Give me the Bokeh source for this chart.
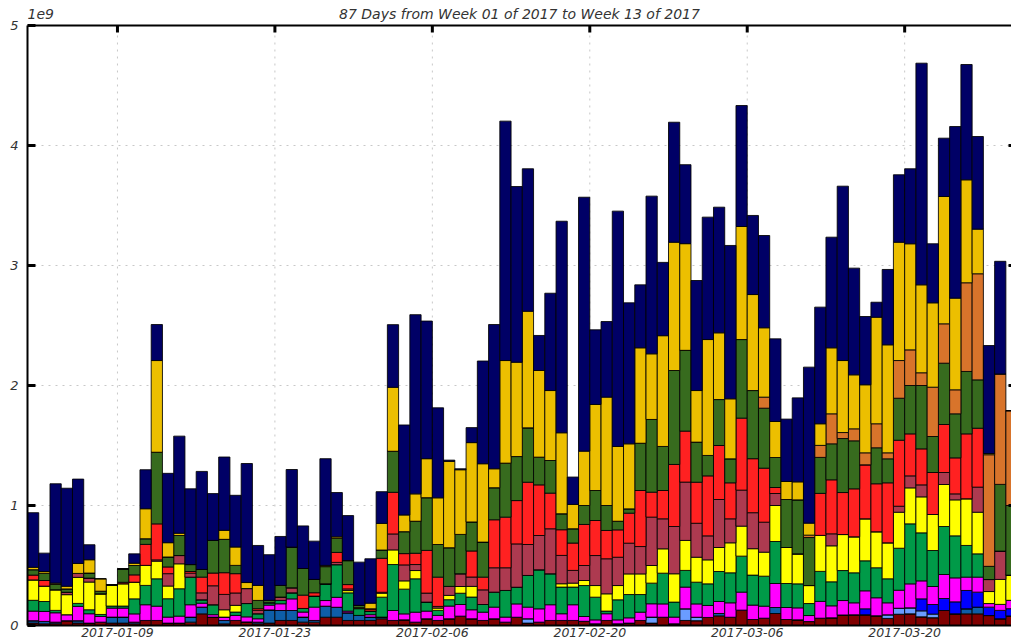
import pandas as pd
from bokeh.plotting import figure
from bokeh.models import (ColumnDataSource, FixedTicker, DatetimeTickFormatter,
                          Label, Range1d, Span)
from bokeh.embed import file_html
from bokeh.resources import INLINE

# ---- data (values in units of 1e9) ----
start = pd.Timestamp("2017-01-01")
n_days = 88
tick_dates = ["2017-01-09", "2017-01-23", "2017-02-06", "2017-02-20", "2017-03-06", "2017-03-20"]
y_ticks = [0, 1, 2, 3, 4, 5]
subtitle = "87 Days from Week 01 of 2017 to Week 13 of 2017"

maroon = [.02, .014, .015, .04, .02, .02, .028, .02, .02, .014,
          .042, .042, .02, .02, .028, .097, .07, .014, .042, .03,
          .014, .02, .042, .042, .028, .028, .069, .069, .042, .042,
          .042, .056, .042, .047, .028, .056, .042, .056, .078, .056,
          .042, .056, .028, .069, .02, .028, .042, .042, .042, .035,
          .014, .042, .014, .02, .042, .02, .069, .014, .042, .04,
          .067, .08, .069, .128, .05, .061, .1, .05, .047, .033,
          .061, .064, .088, .089, .089, .081, .059, .094, .097, .072,
          .065, .125, .097, .097, .097, .083, .056, .08]
steel = [.02, .02, .013, 0, .02, 0, 0, .05, .05, .014,
         0, 0, 0, 0, .042, .056, 0, .028, 0, 0,
         .014, .11, .083, .083, .042, .014, .092, .083, .064, .042,
         .028, .014, 0, 0, 0, 0, 0, 0, 0, 0,
         0, 0, 0, 0, 0, 0, 0, 0, 0, 0,
         0, 0, 0, 0, 0, 0, 0, 0, 0, 0,
         0, .02, 0, 0, 0, 0, .05, 0, 0, 0,
         0, 0, 0, 0, 0, 0, 0, 0, 0, 0,
         0, 0, 0, .042, .056, 0, 0, 0]
light_blue = [0] * 44 + [.036] + [0] * 10 + [.05, 0, 0, .097, .029] + [0] * 16 + \
             [.03, .05, .05, .05, .03] + [0] * 7
blue = [0] * 74 + [.05, 0, 0, 0, 0, .1, .08, .1, .1, .153, .125, .07, .07, .06]
magenta = [.08, .083, .078, .05, .119, .078, .047, .075, .075, .069,
           .131, .119, .05, .058, .103, .033, .02, .028, .042, .042,
           .028, .04, .056, .097, .042, .111, .047, .083, .014, 0,
           .02, 0, .083, .05, .083, .064, .042, .106, .097, .075,
           .069, .097, .042, .111, .097, .111, .131, .056, .131, .04,
           .033, .056, .033, .044, .069, .111, .111, .056, .181, .111,
           .1, .1, .12, .15, .12, .1, .2, .1, .1, .05,
           .14, .1, .12, .1, .15, .15, .1, .15, .2, .15,
           .15, .2, .2, .111, .125, .03, .05, .07]
green = [.09, .083, .02, 0, .025, .033, .017, .017, .017, .125,
         .161, .228, .153, .228, .23, .028, .083, 0, .028, .111,
         .042, .02, .028, .05, .03, .092, .139, .272, .152, .056,
         .03, .166, .383, .206, .278, .075, .042, .053, .094, .106,
         .064, .125, .222, .139, .264, .325, .258, .222, .147, .258,
         .189, .022, .167, .194, .147, .172, .256, .125, .139, .181,
         .18, .25, .25, .3, .25, .25, .35, .2, .2, .1,
         .25, .2, .25, .25, .25, .25, .2, .35, .5, .4,
         .3, .4, .35, .264, .194, 0, 0, 0]
yellow = [.17, .128, .172, .167, .217, .231, .172, .172, .186, .139,
          .167, .147, .106, .208, 0, 0, 0, .061, .056, 0,
          0, 0, 0, 0, 0, 0, 0, 0, .019, .008,
          0, .033, .122, .069, .069, 0, .019, .036, .056, .089,
          0, 0, 0, 0, 0, 0, 0, .028, .033, .042,
          .097, .144, .119, .172, .172, .147, .203, .236, .25, .208,
          .2, .2, .25, .25, .22, .2, .3, .3, .25, .15,
          .3, .3, .3, .3, .35, .3, .3, .3, .3, .3,
          .3, .35, .3, .389, .347, .1, .208, .21]
rose = [0, 0, 0, .02, .033, .033, 0, 0, 0, 0,
        0, .011, .103, .069, .033, .058, .158, .128, .103, .125,
        .028, 0, .028, .042, 0, 0, 0, .019, .014, 0,
        0, .008, .133, .133, .05, .075, .014, .075, .106, .078,
        .122, .203, .189, .361, .258, .286, .375, .236, .106, .125,
        .25, .292, .236, .256, .228, .403, .25, .394, .486, .283,
        .2, .4, .2, .3, .3, .25, .1, 0, 0, 0,
        0, .1, 0, 0, 0, 0, 0, .05, .1, .1,
        0, .1, .05, 0, .209, .1, .236, 0]
red = [.04, .047, 0, 0, 0, 0, 0, 0, .012, .061,
       .175, .3, .056, 0, .014, .131, .106, .181, .161, 0,
       .014, 0, 0, 0, .111, .028, 0, .083, .036, 0,
       .019, .283, .347, .094, .094, .356, .244, 0, 0, .217,
       .106, .4, .422, .361, .519, .422, .297, .214, .228, .342,
       .292, .236, .228, .25, .467, .208, .236, .517, .425, .342,
       .5, .45, .3, .6, .45, .45, .05, 0, 0, 0,
       .35, .45, .35, .4, .45, .4, .5, .55, .35, .3,
       .35, .4, .3, .541, .491, 0, 0, 0]
olive = [.045, .061, .045, .028, 0, .042, .022, .006, .111, .078,
         .047, .597, .083, .167, .058, .064, .272, .278, .069, 0,
         .069, .02, .097, .339, .222, .111, .144, .119, .2, .02,
         0, .069, .342, .183, .267, .439, .272, .322, .328, .242,
         .292, .267, .45, .367, .453, .231, .272, .133, .119, .158,
         .25, .208, .072, .036, .394, .606, .367, .783, .673, .334,
         .17, .383, .2, .655, .568, .5, .25, .4, .45, .4,
         .3, .3, .45, .4, 0, .3, .2, .35, .403, .528,
         .3, .511, .367, .52, .403, .11, .556, .58]
orange = [0] * 65 + [.092, 0, 0, 0, .02, .1, .25, .05, .1, .1, .2, .05, .314, .297, .106,
                     .411, .328, .2, .739, .884, .93, .92, .79]
gold = [.02, .014, .01, .022, .083, .111, .103, 0, 0, .019,
        .25, .764, .119, .019, 0, 0, 0, .075, .153, .05,
        .125, 0, 0, 0, 0, 0, .01, .011, 0, 0,
        .047, .222, .533, .139, .228, .325, .389, .72, .539, .661,
        .653, .158, .855, .786, .972, .722, .583, .675, .203, .453,
        .717, .903, .623, .542, .795, .547, .923, 1.069, .889, .43,
        .966, .556, .5, .942, .8, .578, .3, .15, .15, .1,
        .18, .55, .6, .45, .567, .888, .9, .986, .884, .733,
        .703, 1.061, .764, .858, .372, .01, 0, 0]
navy = [.455, .153, .828, .817, .703, .125, 0, 0, 0, .078,
        .325, .3, .578, .809, .631, .817, .39, .611, .431, .992,
        .333, .38, .408, .647, .355, .319, .889, .369, .375, .36,
        .37, .264, .522, .75, 1.493, 1.147, .75, .01, .008, .125,
        .856, 1.202, 1.995, 1.464, 1.187, .292, .811, 1.763, .228, 2.116,
        .622, .63, 1.961, 1.175, .525, 1.314, .611, 1.0, .658, .917,
        1.02, 1.047, 1.278, 1.008, .659, .769, .689, .52, .7, 1.3,
        .972, .922, 1.453, .889, .569, .125, .628, .562, .625, 1.847,
        .492, .486, 1.43, .961, .772, .9, .939, 0]

# stacking order, bottom to top
layers = [
    ("maroon", maroon, "#800000"),
    ("steel", steel, "#0e5ea8"),
    ("light_blue", light_blue, "#6a9cff"),
    ("blue", blue, "#0000ff"),
    ("magenta", magenta, "#ff00ff"),
    ("green", green, "#009a48"),
    ("yellow", yellow, "#ffff00"),
    ("rose", rose, "#ad3a50"),
    ("red", red, "#ff2121"),
    ("olive", olive, "#376b1e"),
    ("orange", orange, "#d8742b"),
    ("gold", gold, "#ecbf00"),
    ("navy", navy, "#000066"),
]

day_ms = 86400000
x_start = start.value / 1e6
x_end = x_start + 87.5 * day_ms
y_top = 5.0                     # top of the value axis
y_view = 625 / 120              # visible range leaves room for the heading

dates = [x_start + (i + 0.5) * day_ms for i in range(n_days)]
data = {"date": dates}
for name, vals, _ in layers:
    data[name] = vals
src = ColumnDataSource(data)

ticks_ms = [pd.Timestamp(d).value / 1e6 for d in tick_dates]
date_fmt = DatetimeTickFormatter(days="%Y-%m-%d", months="%Y-%m-%d", years="%Y-%m-%d",
                                 hours="%Y-%m-%d", hourmin="%Y-%m-%d")

p = figure(width=1011, height=642, x_axis_type="datetime",
           x_range=Range1d(x_start, x_end), y_range=Range1d(0, y_view),
           output_backend="svg", toolbar_location=None,
           min_border_left=27, min_border_right=0, min_border_top=0, min_border_bottom=17)
p.outline_line_color = None
p.background_fill_color = "white"
p.border_fill_color = "white"

label_font = "DejaVu Sans"
text_color = "#333333"
grid_color = "#c8c8c8"

# horizontal grid
p.xgrid.visible = False
p.ygrid.ticker = FixedTicker(ticks=[1, 2, 3, 4])
p.ygrid.grid_line_color = grid_color
p.ygrid.grid_line_dash = "2 5"

# vertical grid at the date ticks, limited to the value area
p.segment(x0=ticks_ms, y0=[0] * len(ticks_ms), x1=ticks_ms, y1=[y_top] * len(ticks_ms),
          line_color=grid_color, line_dash="2 5", line_width=1)

p.vbar_stack([n for n, _, _ in layers], x="date", width=day_ms, source=src,
             fill_color=[c for _, _, c in layers], line_color="black", line_width=1,
             line_alpha=0.85)

# left axis
p.yaxis.ticker = FixedTicker(ticks=y_ticks)
p.yaxis.bounds = (0, y_top)
p.yaxis.axis_line_width = 2
p.yaxis.axis_line_color = "black"
p.yaxis.major_tick_in = 8
p.yaxis.major_tick_out = 0
p.yaxis.major_tick_line_width = 3
p.yaxis.minor_tick_line_color = None
p.yaxis.major_label_text_font = label_font
p.yaxis.major_label_text_font_style = "italic"
p.yaxis.major_label_text_font_size = "13px"
p.yaxis.major_label_text_color = text_color
p.yaxis.major_label_standoff = 9

# bottom axis
p.xaxis.ticker = FixedTicker(ticks=ticks_ms)
p.xaxis.formatter = date_fmt
p.xaxis.axis_line_width = 2
p.xaxis.axis_line_color = "black"
p.xaxis.major_tick_in = 0
p.xaxis.major_tick_out = 0
p.xaxis.minor_tick_line_color = None
p.xaxis.major_label_text_font = label_font
p.xaxis.major_label_text_font_style = "italic"
p.xaxis.major_label_text_font_size = "12.5px"
p.xaxis.major_label_text_color = text_color
p.xaxis.major_label_standoff = 2

# top spine with inward ticks
p.add_layout(Span(location=y_top, dimension="width", line_color="black", line_width=2))
tick_len = 7 / 120
p.segment(x0=ticks_ms, y0=[y_top] * len(ticks_ms), x1=ticks_ms,
          y1=[y_top - tick_len] * len(ticks_ms), line_color="black", line_width=3)

# right-hand inward ticks at the value ticks
right_len = 3 / (984 / 87.5) * day_ms
rt = [1, 2, 3, 4]
p.segment(x0=[x_end - right_len] * len(rt), y0=rt, x1=[x_end] * len(rt), y1=rt,
          line_color="black", line_width=3)

# subtitle and scale label above the value area
p.add_layout(Label(x=(x_start + x_end) / 2, y=y_top, y_offset=12, text=subtitle,
                   text_align="center", text_baseline="alphabetic",
                   text_font=label_font, text_font_style="italic",
                   text_font_size="14px", text_color=text_color))
p.add_layout(Label(x=x_start, y=y_top, x_offset=0, y_offset=12, text="1e9",
                   text_align="left", text_baseline="alphabetic",
                   text_font=label_font, text_font_style="italic",
                   text_font_size="14px", text_color=text_color))

open("out.html", "w").write(file_html(p, INLINE))
